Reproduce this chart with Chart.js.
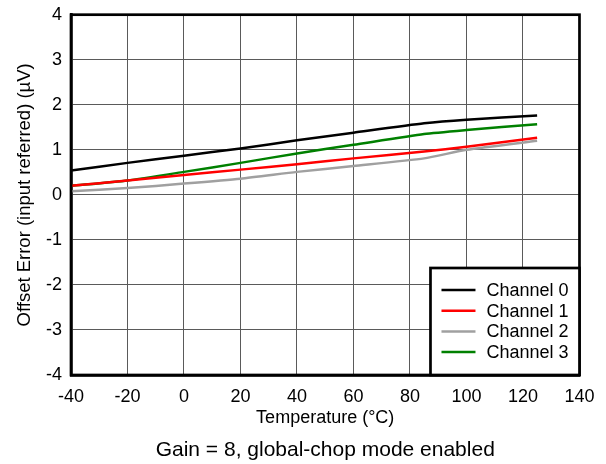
<!DOCTYPE html>
<html>
<head>
<meta charset="utf-8">
<script src="https://cdn.jsdelivr.net/npm/chart.js@4/dist/chart.umd.min.js"></script>
<style>
  html, body { margin: 0; padding: 0; background: #fff; }
  #wrap { width: 606px; height: 464px; }
</style>
</head>
<body>
<div id="wrap"><canvas id="chart"></canvas></div>
<script>
const temps = [-40, -20, 0, 20, 40, 60, 85, 100, 125];
const channel0 = [0.54, 0.71, 0.87, 1.03, 1.21, 1.38, 1.59, 1.67, 1.76];
const channel1 = [0.20, 0.32, 0.44, 0.56, 0.68, 0.81, 0.96, 1.07, 1.27];
const channel2 = [0.08, 0.15, 0.25, 0.36, 0.51, 0.64, 0.81, 1.00, 1.20];
const channel3 = [0.20, 0.32, 0.51, 0.71, 0.92, 1.11, 1.35, 1.44, 1.57];
const seriesNames = ['Channel 0', 'Channel 1', 'Channel 2', 'Channel 3'];
const seriesColors = ['#000000', '#ff0000', '#a0a0a0', '#008000'];

const FONT = 'Liberation Sans, Arial, Helvetica, sans-serif';

const toPoints = (vals) => temps.map((t, i) => ({ x: t, y: vals[i] }));

// Frame around the plot plus a boxed legend in the lower-right corner,
// the way the datasheet figure has it.
const frameAndLegend = {
  id: 'frameAndLegend',
  afterDraw(chart) {
    const { ctx, chartArea: a } = chart;
    ctx.save();
    ctx.strokeStyle = '#000';
    ctx.lineWidth = 2.7;
    ctx.strokeRect(a.left, a.top, a.right - a.left, a.bottom - a.top);

    const boxW = 149, boxH = 107;
    const bx = a.right - boxW, by = a.bottom - boxH;
    ctx.fillStyle = '#fff';
    ctx.fillRect(bx, by, boxW, boxH);
    ctx.strokeRect(bx, by, boxW, boxH);

    ctx.font = '18px ' + FONT;
    ctx.textBaseline = 'middle';
    chart.data.datasets.forEach((ds, i) => {
      const y = by + 22 + i * 20.7;
      ctx.strokeStyle = ds.borderColor;
      ctx.lineWidth = 2.5;
      ctx.beginPath();
      ctx.moveTo(bx + 11, y);
      ctx.lineTo(bx + 45, y);
      ctx.stroke();
      ctx.fillStyle = '#000';
      ctx.fillText(ds.label, bx + 56, y + 1);
    });
    ctx.restore();
  }
};

new Chart(document.getElementById('chart').getContext('2d'), {
  type: 'line',
  data: {
    datasets: [channel0, channel1, channel2, channel3].map((vals, i) => ({
      label: seriesNames[i],
      data: toPoints(vals),
      borderColor: seriesColors[i],
      borderWidth: 2.5,
      pointRadius: 0,
      tension: 0.2,
      fill: false
    }))
  },
  options: {
    responsive: true,
    maintainAspectRatio: false,
    animation: false,
    layout: { padding: { left: 0, right: 23, top: 14.7, bottom: 1.4 } },
    plugins: {
      legend: { display: false },
      tooltip: { enabled: false },
      title: {
        display: true,
        position: 'bottom',
        fullSize: false,
        text: 'Gain = 8, global-chop mode enabled',
        color: '#000',
        font: { family: FONT, size: 21, weight: 'normal' },
        padding: { top: 8.4, bottom: 0 }
      }
    },
    scales: {
      x: {
        type: 'linear',
        min: -40,
        max: 140,
        ticks: { stepSize: 20, color: '#000', font: { family: FONT, size: 18 }, padding: 11.5 },
        grid: { color: '#5a5a5a', lineWidth: 1, drawTicks: false },
        border: { color: '#000', width: 2.7 },
        title: {
          display: true,
          text: 'Temperature (°C)',
          color: '#000',
          font: { family: FONT, size: 18 },
          padding: { top: 2, bottom: 0 }
        },
        afterFit(scale) { scale.height = 54; }
      },
      y: {
        min: -4,
        max: 4,
        ticks: { stepSize: 1, color: '#000', font: { family: FONT, size: 18 }, padding: 9 },
        grid: { color: '#5a5a5a', lineWidth: 1, drawTicks: false },
        border: { color: '#000', width: 2.7 },
        title: {
          display: true,
          text: 'Offset Error (input referred) (µV)',
          color: '#000',
          font: { family: FONT, size: 18.5 },
          padding: { top: 13.4, bottom: 0 }
        },
        // the top label may poke above the frame, as in the figure
        afterFit(scale) { scale.width = 71; scale.paddingTop = 0; }
      }
    }
  },
  plugins: [frameAndLegend]
});
</script>
</body>
</html>
